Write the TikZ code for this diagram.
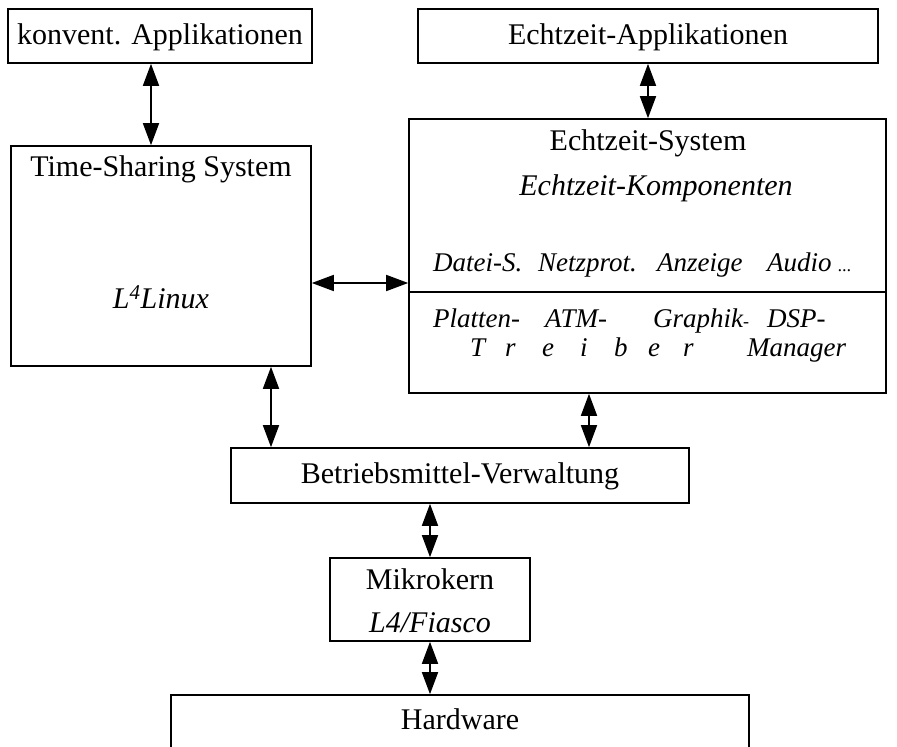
\documentclass[tikz,border=0pt]{standalone}
\usepackage{fontspec}
\setmainfont{Liberation Serif}
\usetikzlibrary{arrows.meta}
\tikzset{
  box/.style={draw, line width=1.6pt, inner sep=0pt, anchor=center},
  txt/.style={inner sep=0pt, anchor=center, font=\fontsize{30}{36}\selectfont},
  itxt/.style={inner sep=0pt, anchor=center, font=\fontsize{30}{36}\selectfont\itshape},
  rowtxt/.style={inner sep=0pt, anchor=base west, font=\fontsize{27}{32}\selectfont\itshape},
  dbl/.style={line width=1.6pt, {Triangle[length=22pt,width=16pt]}-{Triangle[length=22pt,width=16pt]}},
  sepline/.style={line width=1.2pt}
}
\begin{document}
\begin{tikzpicture}[x=1pt,y=-1pt]
\useasboundingbox (0,0) rectangle (897,747);
\clip (0,0) rectangle (897,747);
% boxes
\node[box, minimum width=304pt, minimum height=54pt] (konv) at (160,36) {};
\node[txt] (konvt) at (160,37) {konvent. Applikationen};
\node[box, minimum width=460pt, minimum height=54pt] (app) at (648,36) {};
\node[txt] (appt) at (648,37) {Echtzeit-Applikationen};
\node[box, minimum width=300pt, minimum height=220pt] (ts) at (161,256) {};
\node[txt] (tst) at (161,169) {Time-Sharing System};
\node[inner sep=0pt, font=\fontsize{30}{36}\selectfont\itshape] (lin) at (161,297) {L\textsuperscript{4}Linux};
\node[box, minimum width=477pt, minimum height=274pt] (es) at (647.5,256) {};
\node[txt] (est) at (648,143) {Echtzeit-System};
\node[itxt] (esk) at (656,188) {Echtzeit-Komponenten};
\coordinate (sepy) at (0,292);
\draw[sepline] (es.west |- sepy) -- (es.east |- sepy);
% upper row
\node[rowtxt] (r1) at (433,271) {Datei-S.};
\node[rowtxt] (r2) at (538,271) {Netzprot.};
\node[rowtxt] (r3) at (657,271) {Anzeige};
\node[rowtxt] (r4) at (767,271) {Audio};
\node[rowtxt, font=\fontsize{18}{20}\selectfont\itshape] (r5) at (838,271) {...};
% lower rows
\node[rowtxt] (p1) at (433,327) {Platten-};
\node[rowtxt] (p2) at (545,327) {ATM-};
\node[rowtxt] (p3) at (653,327) {Graphik\fontsize{18}{20}\selectfont-};
\node[rowtxt] (p4) at (767,327) {DSP-};
\node[rowtxt] (t1) at (470,356) {T};
\node[rowtxt] (t2) at (505,356) {r};
\node[rowtxt] (t3) at (542,356) {e};
\node[rowtxt] (t4) at (580,356) {i};
\node[rowtxt] (t5) at (614,356) {b};
\node[rowtxt] (t6) at (648,356) {e};
\node[rowtxt] (t7) at (683,356) {r};
\node[rowtxt] (mg) at (747,356) {Manager};
% lower part
\node[box, minimum width=458pt, minimum height=55pt] (bm) at (460,475.5) {};
\node[txt] (bmt) at (460,476) {Betriebsmittel-Verwaltung};
\node[box, minimum width=200pt, minimum height=83pt] (mk) at (430,599.5) {};
\node[txt] (mkt) at (430,579) {Mikrokern};
\node[itxt] (mkf) at (430,623) {L4/Fiasco};
\node[box, minimum width=578pt, minimum height=90pt] (hw) at (460,740) {};
\node[txt] (hwt) at (460,719) {Hardware};
% connectors
\coordinate (c1) at (151,0);
\coordinate (c2) at (0,283);
\coordinate (c3) at (271,0);
\coordinate (c4) at (589,0);
\draw[dbl] (konv.south -| c1) -- (ts.north -| c1);
\draw[dbl] (app.south) -- (app.south |- es.north);
\draw[dbl] (ts.east |- c2) -- (es.west |- c2);
\draw[dbl] (ts.south -| c3) -- (bm.north -| c3);
\draw[dbl] (es.south -| c4) -- (bm.north -| c4);
\draw[dbl] (mk.north |- bm.south) -- (mk.north);
\draw[dbl] (mk.south) -- (mk.south |- hw.north);
\end{tikzpicture}
\end{document}
